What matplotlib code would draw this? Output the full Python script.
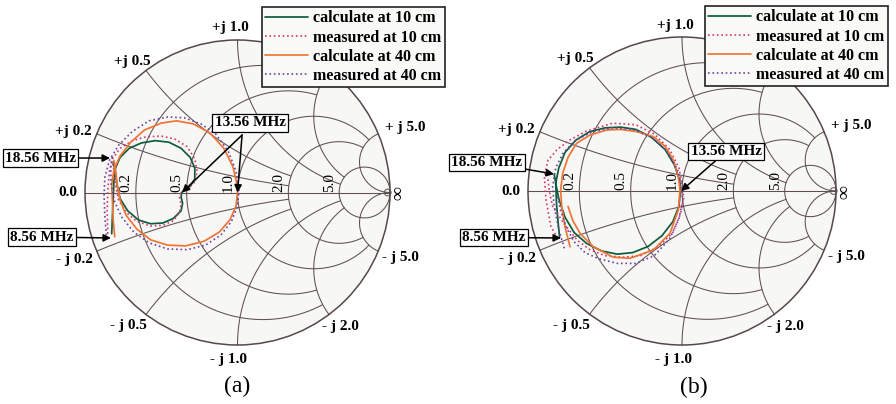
import numpy as np
import matplotlib.pyplot as plt
from matplotlib.patches import Circle

plt.rcParams['font.family'] = ['Liberation Serif', 'DejaVu Serif']

# Smith chart grid: constant resistance circles and reactance arcs,
# each one stops where it meets the next coarser line
rValues = [0.2, 0.5, 1.0, 2.0, 5.0]
rLabels = ['0.2', '0.5', '1.0', '2.0', '5.0']
xValues = [0.2, 0.5, 1.0, 2.0, 5.0]
gridLimits = [2.0, 2.0, 5.0, 5.0, np.inf]
xLabelsPos = ['+j 0.2', '+j 0.5', '+j 1.0', '', '+ j 5.0']   # +j 2.0 is under the legend
xLabelsNeg = ['- j 0.2', '- j 0.5', '- j 1.0', '- j 2.0', '- j 5.0']

seriesNames = ['calculate at 10 cm', 'measured at 10 cm', 'calculate at 40 cm', 'measured at 40 cm']
freqNotes = ['18.56 MHz', '8.56 MHz', '13.56 MHz']

# reflection coefficient (re, im), case (a)
a_calc10_re = [-0.825, -0.82, -0.815, -0.81, -0.80, -0.77, -0.71, -0.63, -0.54, -0.45, -0.37, -0.31, -0.28, -0.28,
               -0.31, -0.35, -0.366, -0.37, -0.36, -0.37, -0.42, -0.49, -0.57, -0.65, -0.72, -0.77, -0.79, -0.80, -0.815]
a_calc10_im = [-0.27, -0.15, -0.03, 0.08, 0.16, 0.23, 0.29, 0.325, 0.34, 0.33, 0.29, 0.23, 0.16, 0.09,
               0.04, 0.012, 0.0, -0.03, -0.07, -0.12, -0.17, -0.20, -0.205, -0.18, -0.12, -0.04, 0.05, 0.13, 0.20]
a_meas10_re = [-0.85, -0.855, -0.85, -0.84, -0.82, -0.77, -0.69, -0.60, -0.50, -0.41, -0.33, -0.28, -0.265, -0.28,
               -0.32, -0.37, -0.38, -0.37, -0.38, -0.42, -0.49, -0.57, -0.66, -0.73, -0.78, -0.80, -0.81, -0.82]
a_meas10_im = [-0.27, -0.12, 0.02, 0.14, 0.22, 0.29, 0.34, 0.365, 0.37, 0.35, 0.30, 0.22, 0.14, 0.07,
               0.03, 0.005, -0.03, -0.08, -0.13, -0.185, -0.215, -0.22, -0.19, -0.13, -0.05, 0.05, 0.14, 0.20]
a_calc40_re = [-0.805, -0.815, -0.82, -0.825, -0.81, -0.77, -0.70, -0.61, -0.50, -0.40, -0.29, -0.18, -0.09, -0.03,
               -0.005, 0.0, -0.01, -0.05, -0.12, -0.22, -0.34, -0.46, -0.57, -0.66, -0.73, -0.77, -0.79, -0.80, -0.81]
a_calc40_im = [-0.29, -0.18, -0.06, 0.05, 0.15, 0.24, 0.33, 0.41, 0.455, 0.47, 0.45, 0.39, 0.29, 0.17,
               0.06, 0.0, -0.09, -0.18, -0.26, -0.32, -0.35, -0.345, -0.31, -0.24, -0.15, -0.05, 0.06, 0.15, 0.21]
a_meas40_re = [-0.86, -0.87, -0.875, -0.87, -0.84, -0.78, -0.69, -0.58, -0.46, -0.35, -0.24, -0.14, -0.06, -0.01,
               0.01, 0.0, -0.04, -0.11, -0.21, -0.33, -0.46, -0.58, -0.68, -0.76, -0.81, -0.83, -0.83, -0.82]
a_meas40_im = [-0.28, -0.15, -0.02, 0.10, 0.21, 0.31, 0.40, 0.47, 0.495, 0.49, 0.45, 0.38, 0.27, 0.14,
               0.02, -0.09, -0.19, -0.28, -0.345, -0.375, -0.37, -0.33, -0.26, -0.16, -0.05, 0.07, 0.18, 0.24]

# case (b)
b_calc10_re = [-0.795, -0.805, -0.815, -0.82, -0.80, -0.76, -0.69, -0.60, -0.50, -0.40, -0.30, -0.20, -0.11, -0.05,
               -0.015, -0.01, -0.02, -0.06, -0.13, -0.22, -0.32, -0.42, -0.52, -0.62, -0.70, -0.76, -0.80, -0.82, -0.83]
b_calc10_im = [-0.30, -0.20, -0.08, 0.05, 0.15, 0.25, 0.33, 0.385, 0.41, 0.415, 0.40, 0.35, 0.27, 0.17,
               0.07, 0.0, -0.10, -0.20, -0.29, -0.36, -0.40, -0.41, -0.39, -0.34, -0.27, -0.17, -0.05, 0.05, 0.11]
b_meas10_re = [-0.807, -0.851, -0.883, -0.894, -0.87, -0.81, -0.73, -0.62, -0.45, -0.30, -0.18, -0.08, -0.02, 0.005,
               0.01, -0.01, -0.06, -0.15, -0.27, -0.385, -0.50, -0.60, -0.68, -0.76, -0.84, -0.862, -0.872]
b_meas10_im = [-0.307, -0.232, -0.058, 0.10, 0.20, 0.27, 0.33, 0.39, 0.44, 0.43, 0.37, 0.27, 0.15, 0.03,
               -0.05, -0.15, -0.27, -0.36, -0.42, -0.43, -0.42, -0.38, -0.32, -0.22, -0.10, 0.0, 0.093]
b_calc40_re = [-0.727, -0.76, -0.781, -0.788, -0.775, -0.738, -0.684, -0.597, -0.489, -0.40, -0.29, -0.186, -0.11,
               -0.055, -0.024, -0.013, -0.024, -0.078, -0.186, -0.338, -0.446, -0.576, -0.662, -0.71, -0.74]
b_calc40_im = [-0.362, -0.232, -0.102, 0.006, 0.115, 0.223, 0.31, 0.364, 0.396, 0.40, 0.385, 0.353, 0.29,
               0.20, 0.093, 0.006, -0.123, -0.275, -0.383, -0.437, -0.43, -0.362, -0.275, -0.19, -0.10]
b_meas40_re = [-0.764, -0.80, -0.83, -0.84, -0.82, -0.77, -0.69, -0.58, -0.45, -0.32, -0.20, -0.10, -0.03, 0.0,
               0.005, -0.02, -0.08, -0.18, -0.30, -0.42, -0.54, -0.63, -0.70, -0.75, -0.79, -0.81]
b_meas40_im = [-0.372, -0.25, -0.10, 0.03, 0.15, 0.25, 0.33, 0.385, 0.41, 0.40, 0.35, 0.26, 0.14, 0.03,
               -0.06, -0.18, -0.31, -0.42, -0.47, -0.47, -0.44, -0.40, -0.33, -0.24, -0.12, -0.02]

colors = ['#0d5c3a', '#d8356e', '#f07535', '#6a45a0']
styles = ['-', ':', '-', ':']
gridColor = '#5e5050'

# label offsets from the arc end points on the rim (pixels)
posOffsets = [(-5, 2, 'right'), (-14, 9, 'center'), (-7, 12, 'center'), (11, 12, 'center'), (7, 6, 'left')]
negOffsets = [(-4, -8, 'right'), (-18, -11, 'center'), (-9, -14, 'center'), (11, -12, 'center'), (4, -6, 'left')]

fig = plt.figure(figsize=(8.96, 4.04), dpi=100)


def chartAxes(left, cx, cy, R):
    ax = fig.add_axes([left/896, 0, 448/896, 1])
    ax.set_xlim((left - cx)/R, (left + 448 - cx)/R)
    ax.set_ylim((cy - 404)/R, cy/R)
    ax.axis('off')
    return ax


def gamma(z):
    g = (z - 1)/(z + 1)
    return g.real, g.imag


def sweep(limit):
    # dense sweep of the free coordinate, limited to +-limit
    t = np.tan(np.linspace(-np.pi/2 + 1e-4, np.pi/2 - 1e-4, 2001))
    return t[np.abs(t) <= limit]


def smithGrid(ax):
    ax.add_patch(Circle((0, 0), 1, fc='#f7f7f5', ec='none', zorder=0))
    kw = dict(color=gridColor, lw=0.75, zorder=1)
    for r, lim in zip(rValues, gridLimits):
        ax.plot(*gamma(r + 1j*sweep(lim)), **kw)
    for x, lim in zip(xValues, gridLimits):
        s = sweep(lim)
        s = s[s >= 0]
        ax.plot(*gamma(s + 1j*x), **kw)
        ax.plot(*gamma(s - 1j*x), **kw)
    ax.plot([-1, 1], [0, 0], **kw)
    ax.add_patch(Circle((0, 0), 1, fc='none', ec='#55484a', lw=1.1, zorder=2))
    ax.add_patch(Circle((0.985, 0), 0.022, fc='none', ec=gridColor, lw=0.7, zorder=2))

    bold = dict(fontsize=11, fontweight='bold', va='center', zorder=3)
    for x, lp, ln, op, on in zip(xValues, xLabelsPos, xLabelsNeg, posOffsets, negOffsets):
        ex, ey = gamma(1j*x)
        if lp:
            ax.annotate(lp, (ex, ey), xytext=op[:2], textcoords='offset pixels', ha=op[2], **bold)
        ax.annotate(ln, (ex, -ey), xytext=on[:2], textcoords='offset pixels', ha=on[2], **bold)
    ax.annotate('0.0', (-1, 0), xytext=(-8, 0), textcoords='offset pixels', ha='right', **bold)
    ax.annotate('\u221e', (1, 0), xytext=(9, -1), textcoords='offset pixels', ha='center', rotation=90,
                fontsize=14, fontweight='bold', va='center', zorder=3)
    for r, lab in zip(rValues, rLabels):
        ax.annotate(lab, ((r - 1)/(r + 1), 0), xytext=(-3, 1), textcoords='offset pixels',
                    ha='right', va='bottom', rotation=90, fontsize=11, zorder=3)


def drawCurves(ax, curves, legendAnchor):
    handles = []
    for (re, im), name, c, ls in zip(curves, seriesNames, colors, styles):
        h, = ax.plot(re, im, color=c, ls=ls, lw=1.25 if ls == '-' else 1.2, label=name, zorder=4,
                     solid_joinstyle='round', solid_capstyle='round')
        handles.append(h)
    leg = ax.legend(handles=handles, loc='upper left', bbox_to_anchor=legendAnchor, bbox_transform=ax.transData,
                    prop=dict(size=11.5, weight='bold'), frameon=True, fancybox=False, framealpha=1,
                    facecolor='#f9f9f7', edgecolor='#222222', handlelength=2.7, handletextpad=0.3,
                    labelspacing=0.2, borderpad=0.2, borderaxespad=0)
    leg.get_frame().set_linewidth(1.2)
    leg.set_zorder(6)


box = dict(boxstyle='square,pad=0.15', fc='white', ec='black', lw=0.9)
arrow = dict(arrowstyle='-|>', color='black', lw=1.1, shrinkA=0, shrinkB=0, mutation_scale=11)

# (a)
axA = chartAxes(0, 237.5, 192.5, 152.5)
smithGrid(axA)
drawCurves(axA, [(a_calc10_re, a_calc10_im), (a_meas10_re, a_meas10_im),
                 (a_calc40_re, a_calc40_im), (a_meas40_re, a_meas40_im)], (0.161, 1.215))
axA.annotate(freqNotes[0], (-0.836, 0.226), xytext=(-1.292, 0.226), ha='center', va='center',
             fontsize=11, fontweight='bold', bbox=box, arrowprops=arrow, zorder=7)
axA.annotate(freqNotes[1], (-0.830, -0.298), xytext=(-1.282, -0.292), ha='center', va='center',
             fontsize=11, fontweight='bold', bbox=box, arrowprops=arrow, zorder=7)
axA.text(0.082, 0.456, freqNotes[2], ha='center', va='center', fontsize=11, fontweight='bold', bbox=box, zorder=7)
axA.annotate('', (-0.364, 0.0), xytext=(0.03, 0.377), arrowprops=arrow, zorder=7)
axA.annotate('', (0.0, 0.0), xytext=(0.03, 0.377), arrowprops=arrow, zorder=7)
axA.text(0.0, -1.275, '(a)', ha='center', va='center', fontsize=17)

# (b)
axB = chartAxes(448, 682, 191, 154)
smithGrid(axB)
drawCurves(axB, [(b_calc10_re, b_calc10_im), (b_meas10_re, b_meas10_im),
                 (b_calc40_re, b_calc40_im), (b_meas40_re, b_meas40_im)], (0.149, 1.20))
axB.annotate(freqNotes[0], (-0.831, 0.110), xytext=(-1.266, 0.185), ha='center', va='center',
             fontsize=11, fontweight='bold', bbox=box, arrowprops=arrow, zorder=7)
axB.annotate(freqNotes[1], (-0.786, -0.305), xytext=(-1.221, -0.302), ha='center', va='center',
             fontsize=11, fontweight='bold', bbox=box, arrowprops=arrow, zorder=7)
axB.annotate(freqNotes[2], (-0.006, 0.0), xytext=(0.286, 0.256), ha='center', va='center',
             fontsize=11, fontweight='bold', bbox=box, arrowprops=arrow, zorder=7)
axB.text(0.078, -1.273, '(b)', ha='center', va='center', fontsize=17)

fig.savefig('out.png', dpi=100)
